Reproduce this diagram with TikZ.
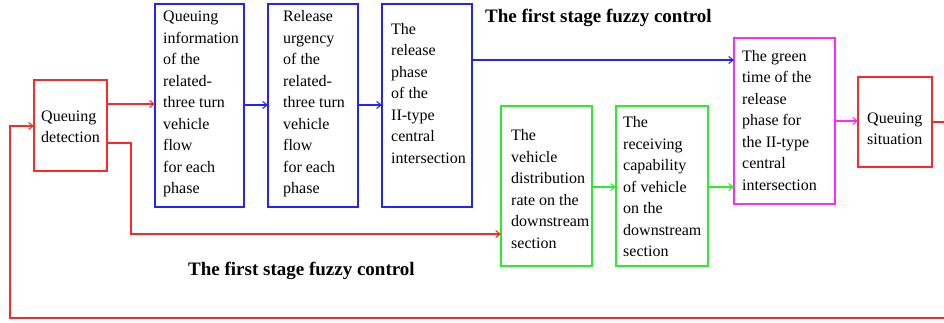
\documentclass[tikz,border=0pt]{standalone}
\usepackage{fontspec}
\setmainfont{Liberation Serif}
\usetikzlibrary{arrows.meta}
\definecolor{cR}{RGB}{255,40,40}
\definecolor{cB}{RGB}{35,35,255}
\definecolor{cG}{RGB}{40,240,40}
\definecolor{cM}{RGB}{255,40,255}
\begin{document}
\begin{tikzpicture}[x=1pt,y=-1pt,
  box/.style={draw=#1, line width=1.2pt, rectangle, inner sep=0pt, outer sep=0pt, anchor=north west},
  txt/.style={font=\fontsize{16}{21.5}\selectfont, align=left, inner sep=0pt, anchor=west},
  ttl/.style={font=\bfseries\fontsize{19}{22}\selectfont, inner sep=0pt, anchor=west},
  conn/.style={draw=#1, line width=1.1pt, -{Straight Barb[length=4.5pt,width=7pt,line width=1.1pt]}},
  plain/.style={draw=#1, line width=1.1pt}]
\useasboundingbox (0,0) rectangle (944,323);
\clip (0,0) rectangle (944,323);
% boxes
\node[box=cR, minimum width=73pt, minimum height=91pt] (qd) at (34,80) {};
\node[box=cB, minimum width=89pt, minimum height=203pt] (b1) at (155,4) {};
\node[box=cB, minimum width=90pt, minimum height=203pt] (b2) at (268,4) {};
\node[box=cB, minimum width=90pt, minimum height=203pt] (b3) at (382,4) {};
\node[box=cG, minimum width=91pt, minimum height=160pt] (g1) at (501,106) {};
\node[box=cG, minimum width=92pt, minimum height=160pt] (g2) at (616,106) {};
\node[box=cM, minimum width=101pt, minimum height=166pt] (mg) at (734,38) {};
\node[box=cR, minimum width=74pt, minimum height=90pt] (qs) at (858,77) {};
% texts
\node[txt] (qdt) at (41,127) {Queuing\\detection};
\node[txt] (b1t) at (163,104) {Queuing\\information\\of the\\related-\\three turn\\vehicle\\flow\\for each\\phase};
\node[txt] (b2t) at (283,104) {Release\\urgency\\of the\\related-\\three turn\\vehicle\\flow\\for each\\phase};
\node[txt] (b3t) at (391,93.5) {The\\release\\phase\\of the\\II-type\\central\\intersection};
\node[txt] (g1t) at (511,189) {The\\vehicle\\distribution\\rate on the\\downstream\\section};
\node[txt] (g2t) at (623,187) {The\\receiving\\capability\\of vehicle\\on the\\downstream\\section};
\node[txt] (mgt) at (742,120.5) {The green\\time of the\\release\\phase for\\the II-type\\central\\intersection};
\node[txt] (qst) at (867,129) {Queuing\\situation};
% titles
\node[ttl] (t1) at (485,18) {The first stage fuzzy control};
\node[ttl] (t2) at (188,271) {The first stage fuzzy control};
% connectors
\draw[conn=cR] (qd.east |- 0,104) -- (b1.west |- 0,104);
\draw[conn=cB] (b1.east |- 0,105) -- (b2.west |- 0,105);
\draw[conn=cB] (b2.east |- 0,105) -- (b3.west |- 0,105);
\draw[conn=cB] (b3.east |- 0,60) -- (mg.west |- 0,60);
\draw[conn=cR] (qd.east |- 0,143) -- (131,143) -- (131,234) -- (g1.west |- 0,234);
\draw[conn=cG] (g1.east |- 0,187) -- (g2.west |- 0,187);
\draw[conn=cG] (g2.east |- 0,187) -- (mg.west |- 0,187);
\draw[conn=cM] (mg.east |- 0,121) -- (qs.west |- 0,121);
\draw[conn=cR] (qs.east |- 0,122) -- (960,122) -- (960,318) -- (10,318) -- (10,126) -- (qd.west |- 0,126);
\end{tikzpicture}
\end{document}
